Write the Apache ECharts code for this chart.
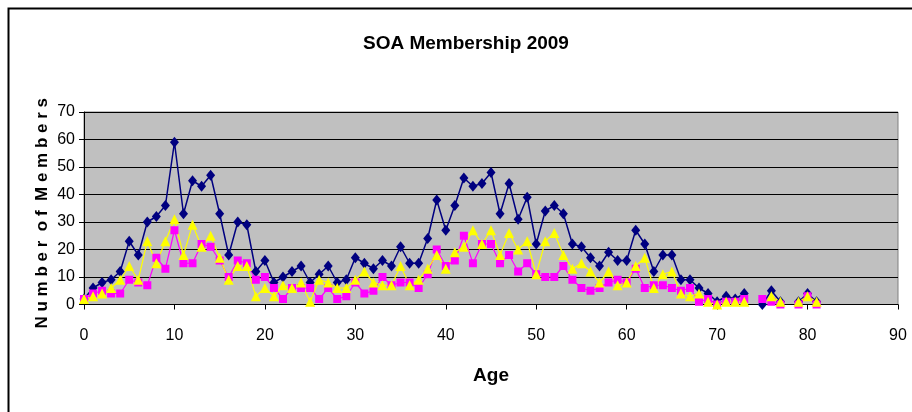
<!DOCTYPE html>
<html>
<head>
<meta charset="utf-8">
<script src="https://cdn.jsdelivr.net/npm/echarts@6/dist/echarts.min.js"></script>
<style>
html,body{margin:0;padding:0;background:#fff;}
#c{width:912px;height:412px;}
</style>
</head>
<body>
<div id="c"></div>
<script>
var ages = [];
for (var a = 0; a <= 81; a++) ages.push(a);

var seriesA = [2,6,8,9,12,23,18,30,32,36,59,33,45,43,47,33,18,30,29,12,16,8,10,12,14,8,11,14,8,9,17,15,13,16,14,21,15,15,24,38,27,36,46,43,44,48,33,44,31,39,22,34,36,33,22,21,17,14,19,16,16,27,22,12,18,18,9,9,6,4,1,3,2,4,null,0,5,1,null,1,4,1];
var seriesB = [2,4,5,4,4,9,8,7,17,13,27,15,15,22,21,16,10,16,15,9,10,6,2,6,6,6,2,6,2,3,8,4,5,10,7,8,8,6,11,20,14,16,25,15,22,22,15,18,12,15,11,10,10,14,9,6,5,6,8,9,8,13,6,7,7,6,5,6,1,2,0,1,1,2,null,2,1,0,null,0,3,0];
var seriesC = [2,3,4,6,9,14,9,23,15,23,31,18,29,21,25,17,9,14,14,3,6,3,7,6,8,1,9,8,6,6,9,12,8,7,7,14,7,9,13,18,13,19,21,27,22,27,18,26,20,23,11,23,26,18,13,15,12,8,12,7,8,14,17,6,11,12,4,3,4,1,0,1,1,1,null,null,3,1,null,1,3,1];

var titleText = 'SOA Membership 2009';
var xName = 'Age';
var yName = 'N u m b e r  o f  M e m b e r s';

function pairs(vals) {
  return ages.map(function (x, i) { return [x, vals[i]]; });
}

var FONT = "'Liberation Sans', Arial, sans-serif";

var chart = echarts.init(document.getElementById('c'), null, {renderer: 'canvas'});
chart.setOption({
  animation: false,
  backgroundColor: '#ffffff',
  title: {
    text: titleText,
    left: 358,
    top: 29,
    textStyle: {fontFamily: FONT, fontWeight: 'bold', fontSize: 19, color: '#000'}
  },
  graphic: [{
    type: 'rect',
    shape: {x: 8.5, y: 8.5, width: 920, height: 420},
    style: {fill: null, stroke: '#000', lineWidth: 2},
    silent: true
  }],
  grid: {left: 84, right: 14, top: 112, bottom: 107.5, show: true, backgroundColor: '#c0c0c0', borderColor: '#808080', borderWidth: 1},
  xAxis: {
    type: 'value', min: 0, max: 90, interval: 10,
    name: xName, nameLocation: 'middle', nameGap: 62, nameMoveOverlap: false,
    nameTextStyle: {fontFamily: FONT, fontWeight: 'bold', fontSize: 19, color: '#000'},
    axisLine: {show: true, lineStyle: {color: '#000', width: 1}},
    axisTick: {show: true, inside: false, length: 5, lineStyle: {color: '#000'}},
    axisLabel: {fontFamily: FONT, fontSize: 16, color: '#000', margin: 23},
    splitLine: {show: false}
  },
  yAxis: {
    type: 'value', min: 0, max: 70, interval: 10,
    name: yName, nameLocation: 'middle', nameGap: 33, nameRotate: 90, nameMoveOverlap: false,
    nameTextStyle: {fontFamily: FONT, fontWeight: 'bold', fontSize: 17, color: '#000', padding: [0, 10, 0, 0]},
    axisLine: {show: true, lineStyle: {color: '#000', width: 1}},
    axisTick: {show: true, inside: false, length: 5, lineStyle: {color: '#000'}},
    axisLabel: {fontFamily: FONT, fontSize: 16, color: '#000', margin: 9},
    splitLine: {show: true, lineStyle: {color: '#000', width: 1}}
  },
  series: [
    {type: 'line', data: pairs(seriesA), symbol: 'diamond', symbolSize: [9, 11],
     lineStyle: {color: '#000080', width: 1.5}, itemStyle: {color: '#000080'}, connectNulls: false},
    {type: 'line', data: pairs(seriesB), symbol: 'rect', symbolSize: 8,
     lineStyle: {color: '#ff00ff', width: 1.2}, itemStyle: {color: '#ff00ff'}, connectNulls: false},
    {type: 'line', data: pairs(seriesC), symbol: 'triangle', symbolSize: 10,
     lineStyle: {color: '#ffff00', width: 1.2}, itemStyle: {color: '#ffff00'}, connectNulls: false}
  ]
});
</script>
</body>
</html>
